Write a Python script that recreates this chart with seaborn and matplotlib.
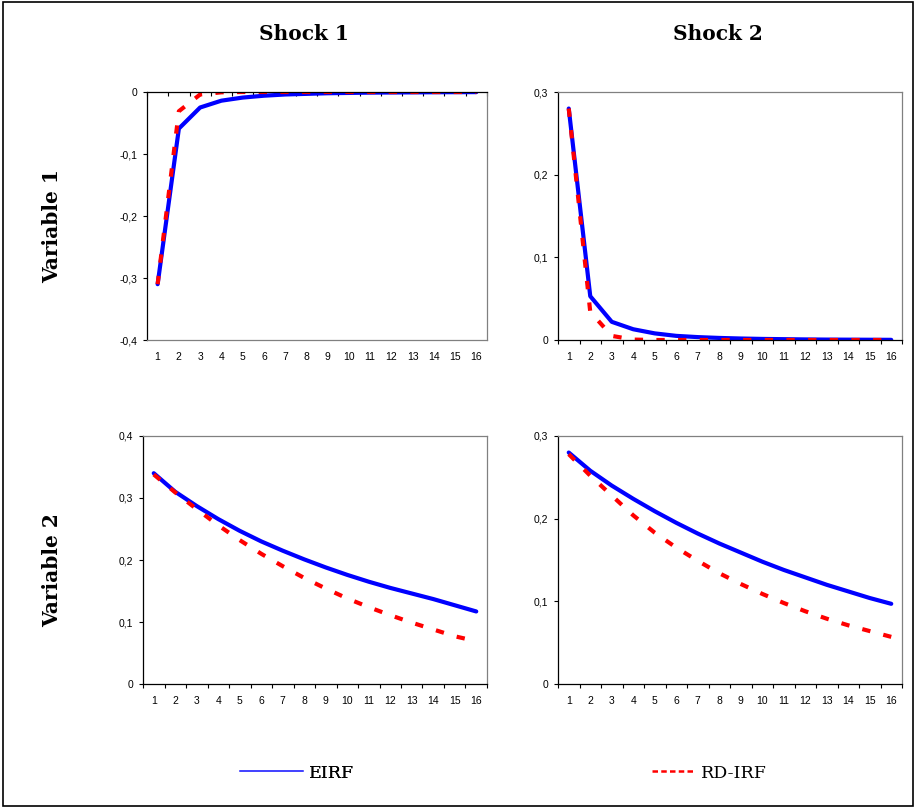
import matplotlib
matplotlib.use("Agg")
import matplotlib.pyplot as plt
from matplotlib.lines import Line2D
from matplotlib.patches import Rectangle
from matplotlib.ticker import FixedLocator, FuncFormatter
import seaborn as sns
import pandas as pd

# ---- data ----
periods = list(range(1, 17))
series_names = ["EIRF", "RD-IRF"]
shock_titles = ["Shock 1", "Shock 2"]
variable_titles = ["Variable 1", "Variable 2"]

v1_s1_eirf = [-0.310, -0.059, -0.025, -0.014, -0.009, -0.006, -0.004, -0.003,
              -0.002, -0.0015, -0.001, -0.0008, -0.0006, -0.0004, -0.0003, -0.0002]
v1_s1_rd = [-0.310, -0.031, -0.004, -0.0005, 0.0, 0.0, 0.0, 0.0,
            0.0, 0.0, 0.0, 0.0, 0.0, 0.0, 0.0, 0.0]
v1_s2_eirf = [0.280, 0.053, 0.022, 0.013, 0.008, 0.005, 0.0035, 0.0025,
              0.0018, 0.0013, 0.001, 0.0007, 0.0005, 0.0004, 0.0003, 0.0002]
v1_s2_rd = [0.280, 0.034, 0.005, 0.0005, 0.0, 0.0, 0.0, 0.0,
            0.0, 0.0, 0.0, 0.0, 0.0, 0.0, 0.0, 0.0]
v2_s1_eirf = [0.340, 0.310, 0.287, 0.266, 0.247, 0.230, 0.215, 0.201,
              0.188, 0.176, 0.165, 0.155, 0.146, 0.137, 0.127, 0.117]
v2_s1_rd = [0.338, 0.309, 0.282, 0.256, 0.232, 0.210, 0.190, 0.171,
            0.154, 0.138, 0.124, 0.111, 0.099, 0.088, 0.077, 0.069]
v2_s2_eirf = [0.280, 0.258, 0.240, 0.224, 0.209, 0.195, 0.182, 0.170,
              0.159, 0.148, 0.138, 0.129, 0.120, 0.112, 0.104, 0.097]
v2_s2_rd = [0.278, 0.252, 0.228, 0.204, 0.183, 0.165, 0.149, 0.134,
            0.121, 0.109, 0.098, 0.088, 0.079, 0.071, 0.064, 0.057]

y_ticks = {
    (0, 0): [-0.4, -0.3, -0.2, -0.1, 0.0],
    (0, 1): [0.0, 0.1, 0.2, 0.3],
    (1, 0): [0.0, 0.1, 0.2, 0.3, 0.4],
    (1, 1): [0.0, 0.1, 0.2, 0.3],
}
panel_data = {
    (0, 0): (v1_s1_eirf, v1_s1_rd),
    (0, 1): (v1_s2_eirf, v1_s2_rd),
    (1, 0): (v2_s1_eirf, v2_s1_rd),
    (1, 1): (v2_s2_eirf, v2_s2_rd),
}

sns.set_style("ticks")
plt.rcParams["font.family"] = ["Liberation Sans", "DejaVu Sans"]
plt.rcParams["text.color"] = "black"
plt.rcParams["xtick.color"] = "black"
plt.rcParams["ytick.color"] = "black"
plt.rcParams["axes.labelcolor"] = "black"

W, H = 916, 807
fig = plt.figure(figsize=(W / 100, H / 100), dpi=100)

# axes boxes in pixels: left, top, right, bottom
boxes = {
    (0, 0): (147, 92, 487, 340),
    (0, 1): (558, 92, 902, 340),
    (1, 0): (143, 436, 487, 684),
    (1, 1): (558, 436, 902, 684),
}

blue = "#0000FF"
red = "#FF0000"
gray = "#808080"

for key, (l, t, r, b) in boxes.items():
    ax = fig.add_axes([l / W, 1 - b / H, (r - l) / W, (b - t) / H])
    eirf, rd = panel_data[key]
    df = pd.DataFrame({
        "period": periods * 2,
        "value": list(eirf) + list(rd),
        "series": [series_names[0]] * len(periods) + [series_names[1]] * len(periods),
    })
    sns.lineplot(data=df, x="period", y="value", hue="series", style="series",
                 hue_order=series_names, style_order=series_names,
                 palette={series_names[0]: blue, series_names[1]: red},
                 dashes={series_names[0]: "", series_names[1]: (2.0, 3.2)},
                 linewidth=3.0, errorbar=None, legend=False, ax=ax,
                 solid_capstyle="round")
    yt = y_ticks[key]
    ax.set_ylim(min(yt), max(yt))
    ax.set_xlim(0.5, 16.5)
    ax.set_xlabel("")
    ax.set_ylabel("")
    ax.yaxis.set_major_locator(FixedLocator(yt))
    ax.yaxis.set_major_formatter(FuncFormatter(
        lambda v, p: ("%g" % round(v, 3)).replace(".", ",")))
    ax.tick_params(axis="y", which="major", direction="out", length=3, width=0.8,
                   pad=4, labelsize=7.5, color="black", labelcolor="black")
    # x: boundary ticks (no labels) + centered labels (no tick marks)
    ax.xaxis.set_major_locator(FixedLocator([i + 0.5 for i in range(0, 17)]))
    ax.xaxis.set_minor_locator(FixedLocator(periods))
    ax.xaxis.set_major_formatter(FuncFormatter(lambda v, p: ""))
    ax.xaxis.set_minor_formatter(FuncFormatter(lambda v, p: "%d" % v))
    ax.tick_params(axis="x", which="minor", length=0, pad=9, labelsize=7.5,
                   bottom=True, top=False, labelbottom=True, labelcolor="black")
    for s in ax.spines.values():
        s.set_visible(True)
        s.set_linewidth(0.9)
    ax.spines["left"].set_color("black")
    ax.spines["right"].set_color(gray)
    if key == (0, 0):
        # category axis crosses at zero -> at the top
        ax.spines["top"].set_color("black")
        ax.spines["bottom"].set_color(gray)
        ax.tick_params(axis="x", which="major", direction="in", length=3, width=0.8,
                       top=True, bottom=False, labeltop=False, labelbottom=False,
                       color="black")
    else:
        ax.spines["top"].set_color(gray)
        ax.spines["bottom"].set_color("black")
        ax.tick_params(axis="x", which="major", direction="out", length=3, width=0.8,
                       top=False, bottom=True, labeltop=False, labelbottom=False,
                       color="black")
    ax.set_facecolor("white")

serif = ["DejaVu Serif"]
tfs = 14.5
fig.text(303.5 / W, 1 - 34 / H, shock_titles[0], ha="center", va="center",
         fontweight="bold", family=serif, fontsize=tfs, color="black")
fig.text(718 / W, 1 - 34 / H, shock_titles[1], ha="center", va="center",
         fontweight="bold", family=serif, fontsize=tfs, color="black")
fig.text(52 / W, 1 - 226 / H, variable_titles[0], ha="center", va="center",
         rotation=90, fontweight="bold", family=serif, fontsize=tfs, color="black")
fig.text(52 / W, 1 - 570 / H, variable_titles[1], ha="center", va="center",
         rotation=90, fontweight="bold", family=serif, fontsize=tfs, color="black")

# legends
leg_fs = 12.5
h1 = Line2D([], [], color="#4040FF", lw=1.2)
h2 = Line2D([], [], color=red, lw=1.8, linestyle=(0, (2.2, 1.3)))
lg1 = fig.legend([h1], [series_names[0]], loc="center left",
                 bbox_to_anchor=(240 / W, 1 - 773 / H), frameon=False,
                 borderpad=0, borderaxespad=0, handlelength=3.6, handletextpad=0.4,
                 prop={"family": serif, "size": leg_fs}, labelcolor="black")
lg2 = fig.legend([h2], [series_names[1]], loc="center left",
                 bbox_to_anchor=(652 / W, 1 - 773 / H), frameon=False,
                 borderpad=0, borderaxespad=0, handlelength=2.4, handletextpad=0.4,
                 prop={"family": serif, "size": leg_fs}, labelcolor="black")
fig.add_artist(lg1)

fig.patches.append(Rectangle((2.5 / W, 1.5 / H), (913 - 2.5) / W, (805 - 1.5) / H,
                             transform=fig.transFigure, fill=False,
                             edgecolor="black", linewidth=1.2))

fig.savefig("out.png", dpi=100, facecolor="white")
